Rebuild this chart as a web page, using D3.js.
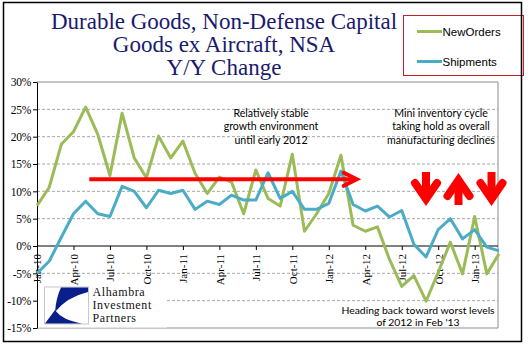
<!DOCTYPE html>
<html><head><meta charset="utf-8">
<script src="https://cdn.jsdelivr.net/npm/d3@7"></script>
<style>body{margin:0;background:#fff} svg{display:block}</style>
</head><body>
<svg id="c" width="532" height="358"></svg>
<script>
// ---- data ----
const months = ["Jan-10","Feb-10","Mar-10","Apr-10","May-10","Jun-10","Jul-10","Aug-10","Sep-10","Oct-10","Nov-10","Dec-10",
  "Jan-11","Feb-11","Mar-11","Apr-11","May-11","Jun-11","Jul-11","Aug-11","Sep-11","Oct-11","Nov-11","Dec-11",
  "Jan-12","Feb-12","Mar-12","Apr-12","May-12","Jun-12","Jul-12","Aug-12","Sep-12","Oct-12","Nov-12","Dec-12",
  "Jan-13","Feb-13","Mar-13"];
const tickLabels = ["Jan-10","Apr-10","Jul-10","Oct-10","Jan-11","Apr-11","Jul-11","Oct-11","Jan-12","Apr-12","Jul-12","Oct-12","Jan-13"];
const newOrders = [7.4,10.7,18.6,20.9,25.4,20.4,12.9,24.3,16.1,12.5,20.1,16.1,
  19.2,13.3,9.6,12.6,11.7,5.9,13.9,8.7,7.3,16.8,2.7,5.9,
  9.6,16.6,3.8,2.7,3.5,-2.5,-7.4,-5.4,-10.1,-4.8,0.7,-5.1,
  5.4,-5.1,-1.4];
const shipments = [-5.0,-2.8,1.6,5.9,8.2,5.9,5.4,10.9,10.0,7.0,10.2,9.6,
  10.2,6.7,8.2,7.6,9.3,8.4,8.4,13.4,8.7,10.0,6.7,6.7,
  7.8,13.7,7.6,6.4,7.3,5.3,6.5,0.3,-2.0,3.0,5.0,1.3,
  3.0,-0.2,-0.9];
const yTicks = [30,25,20,15,10,5,0,-5,-10,-15];
const seriesNames = ["NewOrders","Shipments"];
const titleLines = ["Durable Goods, Non-Defense Capital","Goods ex Aircraft, NSA","Y/Y Change"];
const noteStable = ["Relatively stable","growth environment","until early 2012"];
const noteCycle = ["Mini inventory cycle","taking hold as overall","manufacturing declines"];
const noteWorst = ["Heading back toward worst levels","of 2012 in Feb '13"];
const logoLines = ["Alhambra","Investment","Partners"];

// ---- layout ----
const svg = d3.select("#c");
const L = 37, R = 498, T = 82, B = 328;
const x = d3.scaleLinear().domain([0, months.length - 1]).range([L, 499]);
const y = d3.scaleLinear().domain([-15, 30]).range([B, T]);
const colors = ["#9BBB59", "#4BACC6"];

svg.append("rect").attr("width",532).attr("height",358).attr("fill","#fff");

// gridlines
svg.append("g").selectAll("line").data(yTicks.filter(d => d !== 0 && d !== 30 && d !== -15)).join("line")
  .attr("x1", L).attr("x2", R).attr("y1", d => y(d)).attr("y2", d => y(d))
  .attr("stroke", "#a6a6a6").attr("stroke-width", 1).attr("stroke-dasharray", "3,2");

// plot border (top/right/bottom)
svg.append("path").attr("d", `M${L},${T}H${R}V${B}H${L}`).attr("fill","none").attr("stroke","#8c8c8c").attr("stroke-width",1);

// logo background (covers grid)
svg.append("rect").attr("x", L+1).attr("y", 283).attr("width", 129).attr("height", B-283-0.5).attr("fill", "#fff");

// y axis
const yAxis = svg.append("g").attr("transform", `translate(${L},0)`)
  .call(d3.axisLeft(y).tickValues(yTicks).tickFormat(d => d + "%").tickSize(4).tickSizeOuter(0));
yAxis.select(".domain").attr("stroke", "#000");
yAxis.selectAll(".tick line").attr("stroke", "#000");
yAxis.selectAll("text").attr("font-family", "Liberation Serif").attr("font-size", 11.5).attr("fill", "#000").attr("x", -6).attr("letter-spacing", -0.3);

// x axis at 0%
const tickIdx = tickLabels.map(t => months.indexOf(t));
const xAxis = svg.append("g").attr("transform", `translate(0,${y(0)})`)
  .call(d3.axisBottom(x).tickValues(tickIdx).tickFormat(i => months[i]).tickSize(4).tickSizeOuter(0));
xAxis.select(".domain").attr("stroke", "#000").attr("d", `M${L},0H${R}`);
xAxis.selectAll(".tick line").attr("stroke", "#000");
xAxis.selectAll("text").attr("font-family", "Liberation Serif").attr("font-size", 11).attr("fill", "#000")
  .attr("transform", "rotate(-90)").attr("text-anchor", "end").attr("x", -8).attr("y", 0).attr("dy", "0.35em");

// series lines
const line = d3.line().x((d, i) => x(i)).y(d => y(d));
[newOrders, shipments].forEach((s, k) => {
  svg.append("path").datum(s).attr("d", line).attr("fill", "none")
    .attr("stroke", colors[k]).attr("stroke-width", 3).attr("stroke-linejoin", "round");
});

// red horizontal arrow
const ay = y(12.2);
svg.append("line").attr("x1", x(4.3)).attr("x2", x(26.1)).attr("y1", ay).attr("y2", ay)
  .attr("stroke", "#ff0000").attr("stroke-width", 4);
svg.append("path").attr("d", `M${x(26.3)-13},${ay-6.5}L${x(26.3)},${ay}L${x(26.3)-13},${ay+6.5}`)
  .attr("fill","none").attr("stroke","#ff0000").attr("stroke-width",4).attr("stroke-linecap","round");

// vertical arrows
function vArrow(cx, dir) {
  const g = svg.append("g").attr("stroke", "#ff0000").attr("fill", "none").attr("stroke-width", 8);
  if (dir === "down") {
    g.append("line").attr("x1", cx).attr("x2", cx).attr("y1", 172).attr("y2", 200);
    g.append("path").attr("d", `M${cx-11},183L${cx},199L${cx+11},183`).attr("stroke-linecap","round").attr("stroke-linejoin","miter");
  } else {
    g.append("line").attr("x1", cx).attr("x2", cx).attr("y1", 180).attr("y2", 205);
    g.append("path").attr("d", `M${cx-11},196L${cx},180L${cx+11},196`).attr("stroke-linecap","round").attr("stroke-linejoin","miter");
  }
}
vArrow(426, "down"); vArrow(458.5, "up"); vArrow(491.5, "down");

// annotation texts
function note(lines, cx, y0, dy, size) {
  const t = svg.append("text").attr("font-family", "Lato").attr("font-size", size).attr("fill", "#000").attr("text-anchor", "middle");
  lines.forEach((s, i) => t.append("tspan").attr("x", cx).attr("y", y0 + i * dy).text(s));
}
note(noteStable, 271, 117, 13.4, 10.6);
note(noteCycle, 441, 117, 13.4, 10.6);
note(noteWorst, 418, 314, 11.5, 10.4);

// logo
svg.append("rect").attr("x", 44.5).attr("y", 287).attr("width", 44).attr("height", 37).attr("fill", "#fff").attr("stroke", "#c8c8c8");
svg.append("path").attr("d", "M61,287.5L88,287.5L88,292Q67,297 55,312Q56,298 61,287.5Z").attr("fill", "#0a1e8c");
svg.append("path").attr("d", "M45,323.5L55,310Q62,320 82,323.5Z").attr("fill", "#0a1e8c");
logoLines.forEach((s, i) => svg.append("text").attr("x", 92.5).attr("y", 296 + i * 13.2)
  .attr("font-family", "Liberation Serif").attr("font-size", 12).attr("letter-spacing", 0.6).attr("fill", "#111").text(s));

// title
const tt = svg.append("text").attr("font-family", "Liberation Serif").attr("font-size", 23).attr("fill", "#1a1a6e").attr("text-anchor", "middle");
titleLines.forEach((s, i) => tt.append("tspan").attr("x", 224).attr("y", 29 + i * 23).text(s));

// legend
svg.append("rect").attr("x", 403.5).attr("y", 15.5).attr("width", 120).attr("height", 60).attr("fill", "#fff").attr("stroke", "#c0202a").attr("stroke-width", 1);
seriesNames.forEach((n, k) => {
  const ly = 31.5 + k * 30;
  svg.append("line").attr("x1", 417).attr("x2", 442).attr("y1", ly).attr("y2", ly).attr("stroke", colors[k]).attr("stroke-width", 3);
  svg.append("text").attr("x", 442.5).attr("y", ly + 4).attr("font-family", "Liberation Sans").attr("font-size", 11.5).attr("fill", "#000").text(n);
});

// outer border
svg.append("rect").attr("x", 3.5).attr("y", 2.5).attr("width", 518).attr("height", 339).attr("fill", "none").attr("stroke", "#000").attr("stroke-width", 1.5);
</script>
</body></html>
